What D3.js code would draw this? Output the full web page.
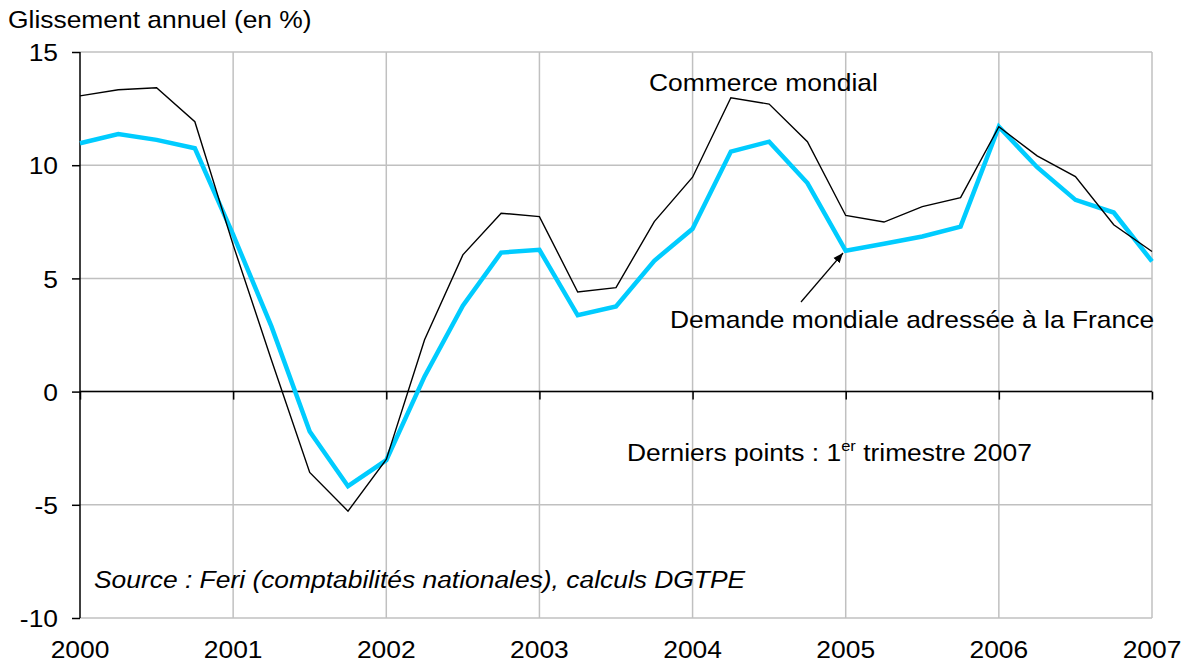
<!DOCTYPE html>
<html><head><meta charset="utf-8">
<script src="https://cdn.jsdelivr.net/npm/d3@7"></script>
<style>body{margin:0;background:#fff}svg{display:block;font-family:"Liberation Sans",Arial,sans-serif}</style>
</head><body><svg id="c" width="1191" height="664"></svg>
<script>
const quarters = [2000,2000.25,2000.5,2000.75,2001,2001.25,2001.5,2001.75,2002,2002.25,2002.5,2002.75,2003,2003.25,2003.5,2003.75,2004,2004.25,2004.5,2004.75,2005,2005.25,2005.5,2005.75,2006,2006.25,2006.5,2006.75,2007];
const commerceMondial = [13.06,13.33,13.42,11.92,6.48,1.4,-3.57,-5.28,-3.0,2.29,6.04,7.88,7.73,4.40,4.59,7.51,9.47,12.98,12.70,11.04,7.78,7.49,8.17,8.57,11.70,10.41,9.50,7.37,6.19];
const demandeFrance = [10.97,11.38,11.12,10.75,6.93,2.88,-1.76,-4.18,-3.03,0.67,3.79,6.14,6.26,3.37,3.76,5.78,7.19,10.60,11.04,9.21,6.22,6.53,6.85,7.29,11.70,9.91,8.47,7.91,5.75];
const yearTicks = [2000,2001,2002,2003,2004,2005,2006,2007];
const valueTicks = [-10,-5,0,5,10,15];

const FS = 24, SX = 1.1;
const svg = d3.select("#c");
const x = d3.scaleLinear().domain([2000,2007]).range([80,1152]);
const y = d3.scaleLinear().domain([-10,15]).range([618,52]);

function label(px, py, anchor, italic) {
  const g = svg.append("g").attr("transform", `translate(${px},${py}) scale(${SX},1)`);
  return g.append("text").attr("text-anchor", anchor || "start").attr("font-size", FS)
    .attr("font-style", italic ? "italic" : "normal").attr("fill", "#000");
}

// grid
svg.append("g").selectAll("line").data(valueTicks).join("line")
  .attr("x1",80).attr("x2",1152).attr("y1",d=>y(d)).attr("y2",d=>y(d))
  .attr("stroke","#c0c0c0").attr("stroke-width",1.5);
svg.append("g").selectAll("line").data(yearTicks.slice(1)).join("line")
  .attr("x1",d=>x(d)).attr("x2",d=>x(d)).attr("y1",52).attr("y2",618)
  .attr("stroke","#c0c0c0").attr("stroke-width",1.5);

// y axis
const yAxis = svg.append("g").attr("transform","translate(80,0)")
  .call(d3.axisLeft(y).tickValues(valueTicks).tickSize(8).tickFormat(d3.format("d")));
yAxis.select(".domain").attr("stroke","#000").attr("stroke-width",1.5).attr("d","M0,52V618");
yAxis.selectAll(".tick line").attr("stroke","#000").attr("stroke-width",1.5);
yAxis.selectAll("text").attr("font-size",FS).attr("fill","#000")
  .attr("font-family","Liberation Sans, Arial, sans-serif")
  .attr("x",-20).attr("dy","0.36em").attr("transform",`scale(${SX},1)`)
  .text(d => d < 0 ? "-" + Math.abs(d) : d);

// x axis at zero
const xAxis0 = svg.append("g").attr("transform",`translate(0,${y(0)})`)
  .call(d3.axisBottom(x).tickValues(yearTicks).tickSize(8).tickFormat(""));
xAxis0.select(".domain").attr("stroke","#000").attr("stroke-width",1.5).attr("d","M80,0H1152");
xAxis0.selectAll(".tick line").attr("stroke","#000").attr("stroke-width",1.5);

// x labels at bottom
yearTicks.forEach(d => label(x(d), 658, "middle").text(d));

// lines
const line = (vals) => d3.line().x((d,i)=>x(quarters[i])).y(d=>y(d))(vals);
svg.append("path").attr("d",line(demandeFrance)).attr("fill","none")
  .attr("stroke","#00ccff").attr("stroke-width",4.5).attr("stroke-linejoin","miter");
svg.append("path").attr("d",line(commerceMondial)).attr("fill","none")
  .attr("stroke","#000").attr("stroke-width",1.4);

// texts
label(8, 28).text("Glissement annuel (en %)");
label(649, 91).text("Commerce mondial");
label(670, 328).text("Demande mondiale adressée à la France");
const dp = label(627, 461);
dp.append("tspan").text("Derniers points : 1");
dp.append("tspan").attr("font-size",15).attr("dy",-10).text("er");
dp.append("tspan").attr("dy",10).text(" trimestre 2007");
label(94, 588, "start", true).text("Source : Feri (comptabilités nationales), calculs DGTPE");

// arrow
svg.append("defs").append("marker").attr("id","ah").attr("viewBox","0 0 10 10")
  .attr("refX",10).attr("refY",5).attr("markerWidth",10).attr("markerHeight",10)
  .attr("markerUnits","userSpaceOnUse").attr("orient","auto")
  .append("path").attr("d","M0,1L10,5L0,9Z").attr("fill","#000");
svg.append("line").attr("x1",801).attr("y1",302).attr("x2",843).attr("y2",253)
  .attr("stroke","#000").attr("stroke-width",1.3).attr("marker-end","url(#ah)");
</script></body></html>
